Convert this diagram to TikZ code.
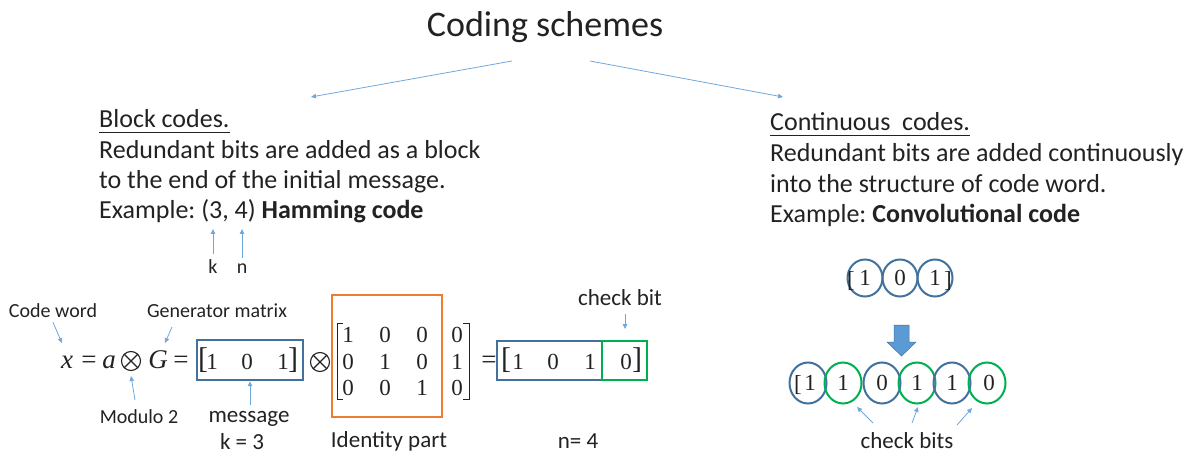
\documentclass[tikz,border=0pt]{standalone}
\usepackage{fontspec}
\setmainfont{Carlito}
\newfontfamily\serifd{Liberation Serif}
\usetikzlibrary{arrows.meta,shapes.geometric}
\definecolor{ink}{HTML}{222222}
\definecolor{arrowblue}{HTML}{6FA8DC}
\definecolor{boxblue}{HTML}{41719C}
\definecolor{boxgreen}{HTML}{00B050}
\definecolor{boxorange}{HTML}{ED7D31}
\definecolor{fillblue}{HTML}{5B9BD5}
\frenchspacing
\begin{document}
\begin{tikzpicture}[x=1pt,y=-1pt,
  head/.style={font=\fontsize{26}{31}\selectfont, anchor=base west, inner sep=0pt, text=ink},
  small/.style={font=\fontsize{20}{24}\selectfont, anchor=base, inner sep=0pt, text=ink},
  mid/.style={font=\fontsize{23}{27}\selectfont, anchor=base, inner sep=0pt, text=ink},
  dig/.style={font=\serifd\fontsize{23}{27}\selectfont, anchor=base, inner sep=0pt, text=ink},
  eqf/.style={font=\serifd\fontsize{27}{31}\selectfont, anchor=base, inner sep=0pt, text=ink},
  brk/.style={font=\serifd\fontsize{30}{34}\selectfont, anchor=base, inner sep=0pt, text=ink},
  otimesnode/.style={circle, draw=ink, line width=1.1pt, minimum size=19pt, inner sep=0pt},
  pointer/.style={draw=arrowblue, line width=0.8pt, -{Triangle[length=5pt,width=4.5pt]}},
  bitbox/.style={draw=#1, line width=2.4pt, inner sep=0pt},
  bitring/.style={draw=#1, line width=2pt, ellipse, inner sep=0pt, font=\serifd\fontsize{23}{27}\selectfont, text=ink},
  topring/.style={bitring=#1, minimum width=35pt, minimum height=37pt},
  lowring/.style={bitring=#1, minimum width=37pt, minimum height=41pt},
]
\useasboundingbox (0,0) rectangle (1190,454);

% title and branches
\node[font=\fontsize{36}{43}\selectfont, anchor=base, inner sep=0pt, text=ink] (title) at (545,37) {Coding schemes};
\coordinate (tl) at (512,61);
\coordinate (tr) at (590,61);
\coordinate (bl) at (311,97);
\coordinate (br) at (783,97);
\draw[pointer] (tl) -- (bl);
\draw[pointer] (tr) -- (br);

% block codes
\node[head] (bc) at (99,128) {Block codes.};
\draw[ink, line width=1.1pt] ([yshift=-4.5pt]bc.base west) -- ([yshift=-4.5pt]bc.base east);
\node[head] (bl1) at (99,159) {Redundant bits are added as a block};
\node[head] (bl2) at (99,189) {to the end of the initial message.};
\node[head] (bl3) at (99,219) {Example: (3, 4) \textbf{Hamming code}};
\node[small] (k) at (213,273) {k};
\node[small] (n) at (242,273) {n};
\coordinate (kt) at (213,229);
\coordinate (nt) at (242,229);
\draw[pointer] ([yshift=5pt]k.north) -- (kt);
\draw[pointer] ([yshift=5pt]n.north) -- (nt);

% continuous codes
\node[head] (cc) at (770,131) {Continuous\ \ codes.};
\draw[ink, line width=1.1pt] ([yshift=-4.5pt]cc.base west) -- ([yshift=-4.5pt]cc.base east);
\node[head] (cl1) at (770,162) {Redundant bits are added continuously};
\node[head] (cl2) at (770,193) {into the structure of code word.};
\node[head] (cl3) at (770,223) {Example: \textbf{Convolutional code}};

% equation labels
\node[small] (cw) at (53,317) {Code word};
\node[small] (gm) at (217,317) {Generator matrix};
\coordinate (cwt) at (62,343);
\coordinate (gms) at (172,327);
\coordinate (gmt) at (165,343);
\draw[pointer] ([yshift=-5pt]cw.south) -- (cwt);
\draw[pointer] (gms) -- (gmt);

% equation x = a (x) G =
\node[eqf] (ex) at (67,368) {\itshape x};
\node[eqf] (e1) at (89,368) {=};
\node[eqf] (ea) at (109,368) {\itshape a};
\node[otimesnode] (eo) at (131,361) {};
\draw[ink, line width=1.1pt] (eo.north west) -- (eo.south east);
\draw[ink, line width=1.1pt] (eo.north east) -- (eo.south west);
\node[eqf] (eg) at (158,368) {\itshape G};
\node[eqf] (e2) at (181,368) {=};

\node[bitbox=boxblue, minimum width=106pt, minimum height=40pt] (msg) at (250,360) {};
\node[brk] (m0) at (203,368) {[};
\node[dig] (m1) at (212,369) {1};
\node[dig] (m2) at (247,369) {0};
\node[dig] (m3) at (283,369) {1};
\node[brk] (m4) at (293,368) {]};
\node[otimesnode] (ot) at (320,362) {};
\draw[ink, line width=1.1pt] (ot.north west) -- (ot.south east);
\draw[ink, line width=1.1pt] (ot.north east) -- (ot.south west);

\node[small] (mod) at (139,423) {Modulo 2};
\draw[pointer] ([xshift=-4pt,yshift=9pt]mod.north) -- ([yshift=-5pt]eo.south);
\node[mid] (msgl) at (249,422) {message};
\node[mid] (kk) at (242,449) {k = 3};
\draw[pointer] ([xshift=1pt,yshift=6pt]msgl.north) -- (msg.south);

% generator matrix
\node[bitbox=boxorange, line width=2.6pt, minimum width=110pt, minimum height=122pt] (idb) at (387,356) {};
\draw[ink, line width=0.9pt] (343,323) -- (337,323) -- (337,399) -- (343,399);
\draw[ink, line width=0.9pt] (463,323) -- (469,323) -- (469,399) -- (463,399);
\foreach \r/\yy in {1/342,2/369,3/395}{
  \foreach \c/\xx in {1/348,2/385,3/422,4/457}{
    \coordinate (g\r\c) at (\xx,\yy);
  }
}
\node[dig] at (g11) {1}; \node[dig] at (g12) {0}; \node[dig] at (g13) {0}; \node[dig] at (g14) {0};
\node[dig] at (g21) {0}; \node[dig] at (g22) {1}; \node[dig] at (g23) {0}; \node[dig] at (g24) {1};
\node[dig] at (g31) {0}; \node[dig] at (g32) {0}; \node[dig] at (g33) {1}; \node[dig] at (g34) {0};
\node[mid] (idl) at (389,447) {Identity part};

% result
\node[eqf] (eq2) at (489,368) {=};
\node[bitbox=boxblue, minimum width=105pt, minimum height=39pt] (res) at (549.5,360.5) {};
\node[bitbox=boxgreen, minimum width=45pt, minimum height=39pt] (chk) at (624.5,360.5) {};
\node[brk] (r0) at (506,368) {[};
\node[dig] (r1) at (518,369) {1};
\node[dig] (r2) at (553,369) {0};
\node[dig] (r3) at (590,369) {1};
\node[dig] (r4) at (626,369) {0};
\node[brk] (r5) at (637,368) {]};
\node[mid] (cbl) at (620,305) {check bit};
\coordinate (cbs) at (625,314);
\coordinate (cbt) at (625,329);
\draw[pointer] (cbs) -- (cbt);
\node[mid] (nl) at (578,448) {n= 4};

% convolutional example
\node[topring=boxblue] (t1) at (865,278) {1};
\node[topring=boxblue] (t2) at (900,278) {0};
\node[topring=boxblue] (t3) at (935,278) {1};
\node[dig] (tlb) at (851,287) {[};
\node[dig] (trb) at (948,287) {]};

\filldraw[fill=fillblue, draw=boxblue, line width=0.5pt]
  (894,325) -- (909,325) -- (909,342) -- (916,342) -- (901.5,356) -- (887,342) -- (894,342) -- cycle;

\node[lowring=boxblue]  (b1) at (808,383) {\hspace{4pt}1};
\node[lowring=boxgreen] (b2) at (843,383) {1};
\node[lowring=boxblue]  (b3) at (882,383) {0};
\node[lowring=boxgreen] (b4) at (917,383) {1};
\node[lowring=boxblue]  (b5) at (952,383) {1};
\node[lowring=boxgreen] (b6) at (987,383) {\hspace{4pt}0};
\node[dig] (blb) at (798,391) {[};

\node[mid] (cbits) at (907,448) {check bits};
\coordinate (a1s) at (873,423); \coordinate (a1t) at (857,407);
\coordinate (a2s) at (912,423); \coordinate (a2t) at (918,407);
\coordinate (a3s) at (957,425); \coordinate (a3t) at (972,408);
\draw[pointer] (a1s) -- (a1t);
\draw[pointer] (a2s) -- (a2t);
\draw[pointer] (a3s) -- (a3t);
\end{tikzpicture}
\end{document}
